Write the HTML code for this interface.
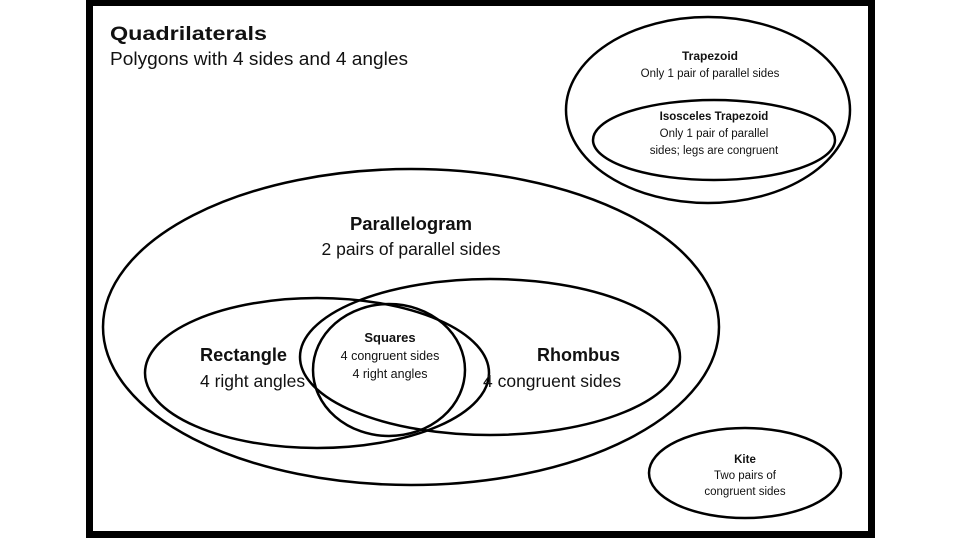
<!DOCTYPE html>
<html><head><meta charset="utf-8"><style>
html,body{margin:0;padding:0;background:#fff;}
svg{display:block;font-family:"Liberation Sans",sans-serif;}
</style></head><body>
<svg width="960" height="540" viewBox="0 0 960 540" xmlns="http://www.w3.org/2000/svg">
<rect x="89.5" y="2.5" width="782" height="532" fill="none" stroke="#000" stroke-width="7"/>
<g fill="none" stroke="#000" stroke-width="2.5">
<ellipse cx="708" cy="110" rx="142" ry="93"/>
<ellipse cx="714" cy="140" rx="121" ry="40"/>
<ellipse cx="411" cy="327" rx="308" ry="158"/>
<ellipse cx="317" cy="373" rx="172" ry="75"/>
<ellipse cx="490" cy="357" rx="190" ry="78"/>
<ellipse cx="389" cy="370" rx="76" ry="66"/>
<ellipse cx="745" cy="473" rx="96" ry="45"/>
</g>
<g fill="#111">
<text x="110" y="40" font-size="19" font-weight="bold" textLength="157" lengthAdjust="spacingAndGlyphs">Quadrilaterals</text>
<text x="110" y="65" font-size="18.5" textLength="298" lengthAdjust="spacingAndGlyphs">Polygons with 4 sides and 4 angles</text>
<g text-anchor="middle">
<text x="710" y="60" font-size="12" font-weight="bold">Trapezoid</text>
<text x="710" y="77" font-size="11.5">Only 1 pair of parallel sides</text>
<text x="714" y="120" font-size="11.5" font-weight="bold">Isosceles Trapezoid</text>
<text x="714" y="137" font-size="11.5">Only 1 pair of parallel</text>
<text x="714" y="154" font-size="11.5">sides; legs are congruent</text>
<text x="411" y="230" font-size="18" font-weight="bold" textLength="122" lengthAdjust="spacingAndGlyphs">Parallelogram</text>
<text x="411" y="255" font-size="17.5">2 pairs of parallel sides</text>
<text x="390" y="342" font-size="13" font-weight="bold">Squares</text>
<text x="390" y="360" font-size="12.5">4 congruent sides</text>
<text x="390" y="378" font-size="12.5">4 right angles</text>
<text x="745" y="463" font-size="11.5" font-weight="bold">Kite</text>
<text x="745" y="479" font-size="11.5">Two pairs of</text>
<text x="745" y="495" font-size="11.5">congruent sides</text>
</g>
<text x="200" y="361" font-size="18" font-weight="bold" textLength="87" lengthAdjust="spacingAndGlyphs">Rectangle</text>
<text x="200" y="387" font-size="17.5">4 right angles</text>
<text x="537" y="361" font-size="18" font-weight="bold" textLength="83" lengthAdjust="spacingAndGlyphs">Rhombus</text>
<text x="483" y="387" font-size="17.5">4 congruent sides</text>
</g>
</svg>
</body></html>
